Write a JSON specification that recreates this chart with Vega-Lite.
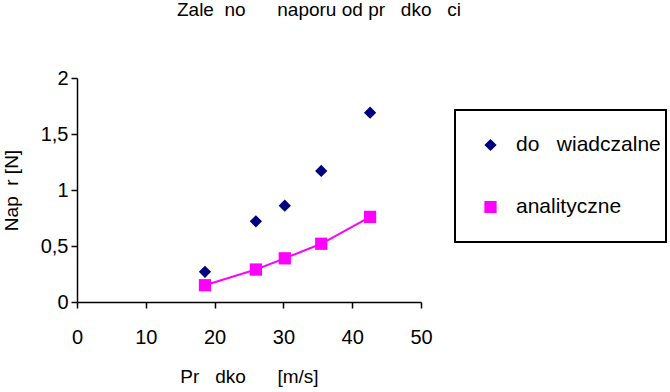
{
  "$schema": "https://vega.github.io/schema/vega-lite/v6.json",
  "width": 344,
  "height": 224,
  "autosize": {"type": "none"},
  "padding": {"left": 77, "top": 78, "right": 249, "bottom": 90},
  "background": "white",
  "title": {
    "text": "Zale\u00a0\u00a0no\u00a0\u00a0\u00a0\u00a0\u00a0\u00a0naporu od pr\u00a0\u00a0\u00a0dko\u00a0\u00a0\u00a0ci",
    "font": "Liberation Sans",
    "fontSize": 19,
    "fontWeight": "normal",
    "color": "black",
    "anchor": "middle",
    "dx": 70,
    "offset": 48
  },
  "data": {
    "values": [
      {"series": "do\u00a0\u00a0\u00a0wiadczalne", "v": 18.6, "f": 0.27},
      {"series": "do\u00a0\u00a0\u00a0wiadczalne", "v": 26.0, "f": 0.72},
      {"series": "do\u00a0\u00a0\u00a0wiadczalne", "v": 30.2, "f": 0.86},
      {"series": "do\u00a0\u00a0\u00a0wiadczalne", "v": 35.5, "f": 1.17},
      {"series": "do\u00a0\u00a0\u00a0wiadczalne", "v": 42.6, "f": 1.69},
      {"series": "analityczne", "v": 18.6, "f": 0.15},
      {"series": "analityczne", "v": 26.0, "f": 0.29},
      {"series": "analityczne", "v": 30.2, "f": 0.39},
      {"series": "analityczne", "v": 35.5, "f": 0.52},
      {"series": "analityczne", "v": 42.6, "f": 0.76}
    ]
  },
  "encoding": {
    "x": {
      "field": "v",
      "type": "quantitative",
      "scale": {"domain": [0, 50], "nice": false},
      "axis": {
        "values": [0, 10, 20, 30, 40, 50],
        "title": "Pr\u00a0\u00a0\u00a0dko\u00a0\u00a0\u00a0\u00a0\u00a0\u00a0[m/s]",
        "labelFlush": false,
        "labelPadding": 19,
        "titlePadding": 20
      }
    },
    "y": {
      "field": "f",
      "type": "quantitative",
      "scale": {"domain": [0, 2], "nice": false},
      "axis": {
        "values": [0, 0.5, 1, 1.5, 2],
        "labelExpr": "replace(format(datum.value, '~g'), '.', ',')",
        "title": "Nap\u00a0\u00a0r [N]",
        "labelFlush": false,
        "labelPadding": 3,
        "titlePadding": 19
      }
    }
  },
  "layer": [
    {
      "transform": [{"filter": "datum.series === 'analityczne'"}],
      "mark": {"type": "line", "color": "#FF00FF", "strokeWidth": 2}
    },
    {
      "mark": {"type": "point", "filled": true, "size": 150, "opacity": 1},
      "encoding": {
        "color": {
          "field": "series",
          "type": "nominal",
          "scale": {"domain": ["do\u00a0\u00a0\u00a0wiadczalne", "analityczne"], "range": ["#000080", "#FF00FF"]},
          "legend": {
            "title": null,
            "orient": "none",
            "legendX": 378,
            "legendY": 32,
            "strokeColor": "black",
            "padding": 5,
            "clipHeight": 60,
            "rowPadding": 2,
            "labelFont": "Liberation Sans",
            "labelFontSize": 21,
            "labelColor": "black",
            "labelLimit": 300,
            "symbolSize": 150,
            "symbolOffset": 20,
            "labelOffset": 15,
            "symbolStrokeWidth": 0,
            "symbolOpacity": 1,
            "encode": {
              "symbols": {
                "update": {
                  "shape": {"signal": "datum.value === 'analityczne' ? 'M-4,-0.16H4V0.16H-4Z M-1,-1H1V1H-1Z' : 'diamond'"}
                }
              }
            }
          }
        },
        "shape": {
          "field": "series",
          "type": "nominal",
          "scale": {"domain": ["do\u00a0\u00a0\u00a0wiadczalne", "analityczne"], "range": ["diamond", "square"]},
          "legend": null
        }
      }
    }
  ],
  "config": {
    "view": {"stroke": null},
    "legend": {"strokeWidth": 2},
    "axis": {
      "grid": false,
      "domainColor": "black",
      "domainWidth": 1.5,
      "tickColor": "black",
      "tickWidth": 1.5,
      "tickSize": 6,
      "labelColor": "black",
      "labelFont": "Liberation Sans",
      "labelFontSize": 20,
      "titleColor": "black",
      "titleFont": "Liberation Sans",
      "titleFontSize": 19,
      "titleFontWeight": "normal"
    }
  }
}
